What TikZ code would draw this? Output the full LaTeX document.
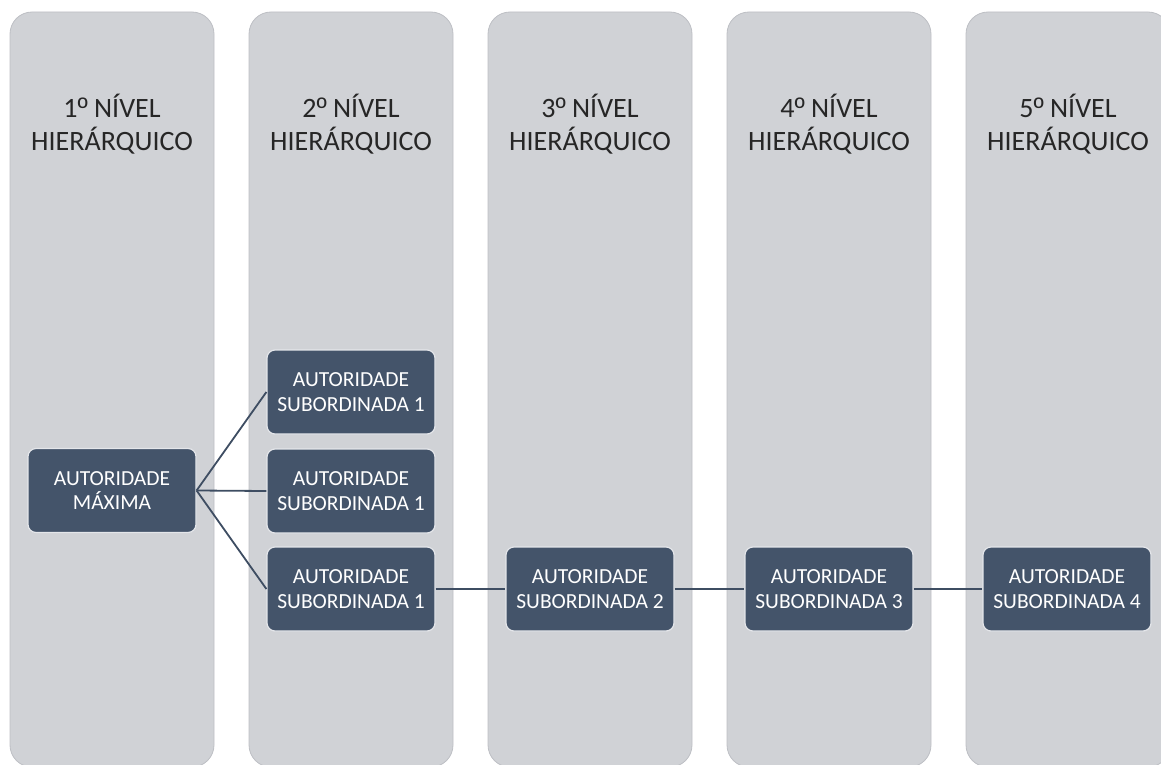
\documentclass[tikz,border=0pt]{standalone}
\usepackage{fontspec}
\setmainfont{Carlito}
\newfontfamily\ordfont{Liberation Sans}
\newcommand{\ordo}{{\ordfont º}}
\definecolor{colfill}{HTML}{D0D2D6}
\definecolor{coledge}{HTML}{BDBFC4}
\definecolor{boxfill}{HTML}{44546A}
\definecolor{boxedge}{HTML}{E4E6EA}
\definecolor{hdrtext}{HTML}{262626}
\definecolor{conncol}{HTML}{3E4D62}
\begin{document}
\begin{tikzpicture}[x=1pt,y=-1pt,
  column/.style={fill=colfill,draw=coledge,line width=0.8pt,rounded corners=22pt},
  header/.style={text=hdrtext,align=center,font=\fontsize{28}{33}\selectfont},
  authbox/.style={fill=boxfill,draw=boxedge,line width=1.2pt,rounded corners=8pt,
    minimum width=168pt,minimum height=84pt,inner sep=0pt,text=white,align=center,
    font=\fontsize{21.5}{24.5}\selectfont},
  conn/.style={draw=conncol,line width=1.8pt}]
\useasboundingbox (0,0) rectangle (1161,765);
\begin{scope}
\clip (0,0) rectangle (1161,765);
\foreach \cx in {10,249,488,727,966}{
  \path[column] (\cx,12) rectangle (\cx+204,767);
}
\end{scope}
\node[header] (h1) at (112,124) {1\ordo\ NÍVEL\\HIERÁRQUICO};
\node[header] (h2) at (351,124) {2\ordo\ NÍVEL\\HIERÁRQUICO};
\node[header] (h3) at (590,124) {3\ordo\ NÍVEL\\HIERÁRQUICO};
\node[header] (h4) at (829,124) {4\ordo\ NÍVEL\\HIERÁRQUICO};
\node[header] (h5) at (1068,124) {5\ordo\ NÍVEL\\HIERÁRQUICO};
\node[authbox] (max) at (112,490.5) {AUTORIDADE\\MÁXIMA};
\node[authbox] (s1a) at (351,392) {AUTORIDADE\\SUBORDINADA 1};
\node[authbox] (s1b) at (351,491) {AUTORIDADE\\SUBORDINADA 1};
\node[authbox] (s1c) at (351,589) {AUTORIDADE\\SUBORDINADA 1};
\node[authbox] (s2) at (590,589) {AUTORIDADE\\SUBORDINADA 2};
\node[authbox] (s3) at (829,589) {AUTORIDADE\\SUBORDINADA 3};
\node[authbox] (s4) at (1067,589) {AUTORIDADE\\SUBORDINADA 4};
\path[conn] (max.east) -- (s1a.west);
\path[conn] (max.east) -- (s1b.west);
\path[conn] (max.east) -- (s1c.west);
\path[conn] (s1c.east) -- (s2.west);
\path[conn] (s2.east) -- (s3.west);
\path[conn] (s3.east) -- (s4.west);
\end{tikzpicture}
\end{document}
